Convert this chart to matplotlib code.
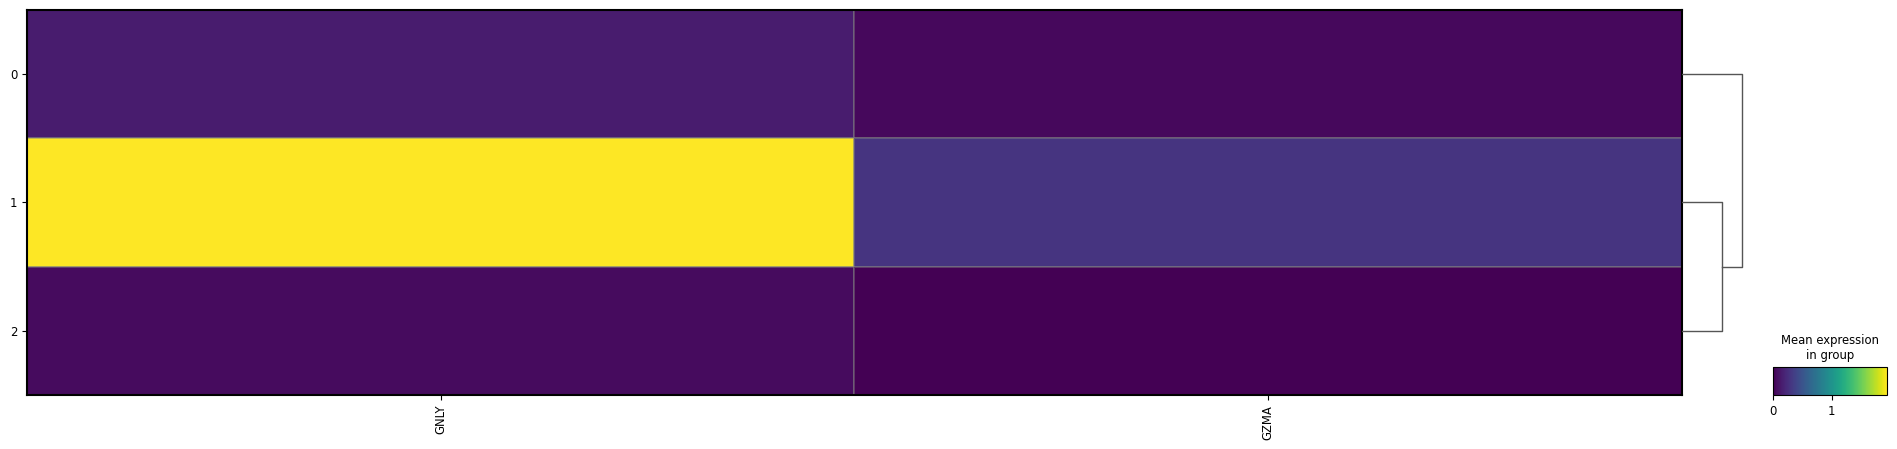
import numpy as np
import matplotlib.pyplot as plt
from matplotlib.colors import Normalize

# mean expression per group (rows) and gene (columns)
genes = ['GNLY', 'GZMA']
groups = ['0', '1', '2']
gnly = [0.15, 1.94, 0.06]
gzma = [0.04, 0.29, 0.00]

# dendrogram linkage heights: (1,2) joined first, then 0
link_12 = 1.2
link_root = 1.8

values = np.array([gnly, gzma]).T
norm = Normalize(vmin=0, vmax=values.max())

fig = plt.figure(figsize=(18.97, 4.49), dpi=100)

# main matrix
ax = fig.add_axes([0.01423, 0.1203, 0.8724, 0.8575])
mesh = ax.pcolormesh(values, cmap='viridis', norm=norm,
                     edgecolors=(0.5, 0.5, 0.5, 0.45), linewidth=0.1)
ax.set_ylim(len(groups), 0)
ax.set_xlim(0, len(genes))
ax.set_xticks(np.arange(len(genes)) + 0.5)
ax.set_xticklabels(genes, rotation=90, fontsize='small')
ax.set_yticks(np.arange(len(groups)) + 0.5)
ax.set_yticklabels(groups, fontsize='small')
for s in ax.spines.values():
    s.set_linewidth(1.5)

# dendrogram
dax = fig.add_axes([0.8867, 0.1203, 0.0474, 0.8575])
y0, y1, y2 = 0.5, 1.5, 2.5
ym = (y1 + y2) / 2
dcol = '#555555'
dax.plot([0, link_12, link_12, 0], [y1, y1, y2, y2], c=dcol, lw=1)
dax.plot([0, link_root, link_root, link_12], [y0, y0, ym, ym], c=dcol, lw=1)
dax.set_ylim(len(groups), 0)
dax.set_xlim(0, link_root * 1.5)
dax.axis('off')

# colorbar
cax = fig.add_axes([0.9346, 0.1203, 0.0601, 0.0624])
cb = fig.colorbar(mesh, cax=cax, orientation='horizontal')
cb.set_ticks([0, 1])
cb.ax.tick_params(labelsize='small')
cax.set_title('Mean expression\nin group', fontsize='small')

plt.savefig('out.png', dpi=100)
